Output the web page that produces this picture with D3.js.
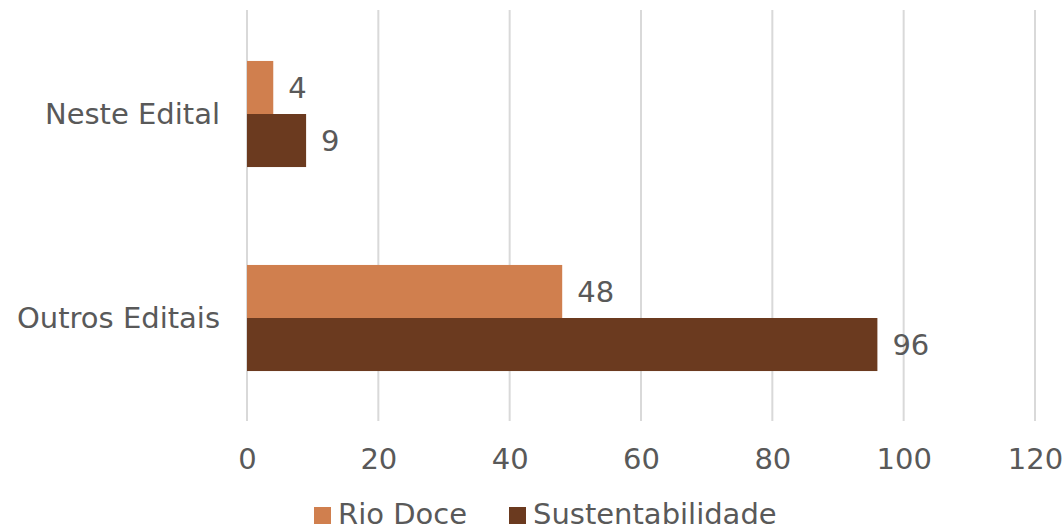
<!DOCTYPE html>
<html>
<head>
<meta charset="utf-8">
<script src="https://cdn.jsdelivr.net/npm/d3@7"></script>
<style>
  html, body { margin: 0; padding: 0; background: #ffffff; }
  svg { display: block; }
  text { font-family: "DejaVu Sans", "Open Sans", sans-serif; fill: #595959; }
</style>
</head>
<body>
<svg id="chart" width="1064" height="532"></svg>
<script>
// Categories, series and values
const categories = ["Neste Edital", "Outros Editais"];
const seriesNames = ["Rio Doce", "Sustentabilidade"];
const rioDoce = [4, 48];
const sustentabilidade = [9, 96];
const tickValues = [0, 20, 40, 60, 80, 100, 120];
const seriesColors = ["#D07F4E", "#6B3A1F"];

const seriesValues = [rioDoce, sustentabilidade];
const rows = categories.map((c, i) => ({
  category: c,
  values: seriesNames.map((s, j) => ({ series: s, value: seriesValues[j][i], idx: j }))
}));

const svg = d3.select("#chart");
const fontSize = 29;

const x = d3.scaleLinear().domain([0, 120]).range([247, 1035]);
const y = d3.scaleBand().domain(categories).range([12, 420]).paddingInner(0.48).paddingOuter(0.24);
const yInner = d3.scaleBand().domain(seriesNames).range([0, y.bandwidth()]);
const color = d3.scaleOrdinal().domain(seriesNames).range(seriesColors);

// Vertical gridlines
svg.append("g")
  .selectAll("line")
  .data(tickValues)
  .join("line")
  .attr("x1", d => x(d)).attr("x2", d => x(d))
  .attr("y1", 10).attr("y2", 421)
  .attr("stroke", "#D9D9D9")
  .attr("stroke-width", 2);

// Bottom axis labels
const xAxis = d3.axisBottom(x).tickValues(tickValues).tickSize(0).tickPadding(0);
const gx = svg.append("g").attr("transform", "translate(0,469)").call(xAxis);
gx.select(".domain").remove();
gx.selectAll("text")
  .attr("dy", 0)
  .attr("y", 0)
  .style("font-size", fontSize + "px")
  .style("font-family", "\"DejaVu Sans\", sans-serif")
  .attr("fill", "#595959");

// Bars
const groups = svg.append("g")
  .selectAll("g")
  .data(rows)
  .join("g")
  .attr("transform", d => `translate(0,${y(d.category)})`);

groups.selectAll("rect")
  .data(d => d.values)
  .join("rect")
  .attr("x", x(0))
  .attr("y", d => yInner(d.series))
  .attr("width", d => x(d.value) - x(0))
  .attr("height", yInner.bandwidth())
  .attr("fill", d => color(d.series));

// Value labels
groups.selectAll("text")
  .data(d => d.values)
  .join("text")
  .attr("x", d => x(d.value) + 15)
  .attr("y", d => yInner(d.series) + yInner.bandwidth() / 2)
  .attr("dy", "0.36em")
  .style("font-size", fontSize + "px")
  .text(d => d.value);

// Category labels
svg.append("g")
  .selectAll("text")
  .data(categories)
  .join("text")
  .attr("x", 220)
  .attr("y", d => y(d) + y.bandwidth() / 2)
  .attr("dy", "0.36em")
  .attr("text-anchor", "end")
  .style("font-size", fontSize + "px")
  .text(d => d);

// Legend
const legendItems = [
  { name: seriesNames[0], x: 314 },
  { name: seriesNames[1], x: 509 }
];
const legend = svg.append("g")
  .selectAll("g")
  .data(legendItems)
  .join("g")
  .attr("transform", d => `translate(${d.x},0)`);
legend.append("rect")
  .attr("x", 0).attr("y", 507)
  .attr("width", 17).attr("height", 17)
  .attr("fill", d => color(d.name));
legend.append("text")
  .attr("x", 24).attr("y", 524)
  .style("font-size", fontSize + "px")
  .text(d => d.name);
</script>
</body>
</html>
